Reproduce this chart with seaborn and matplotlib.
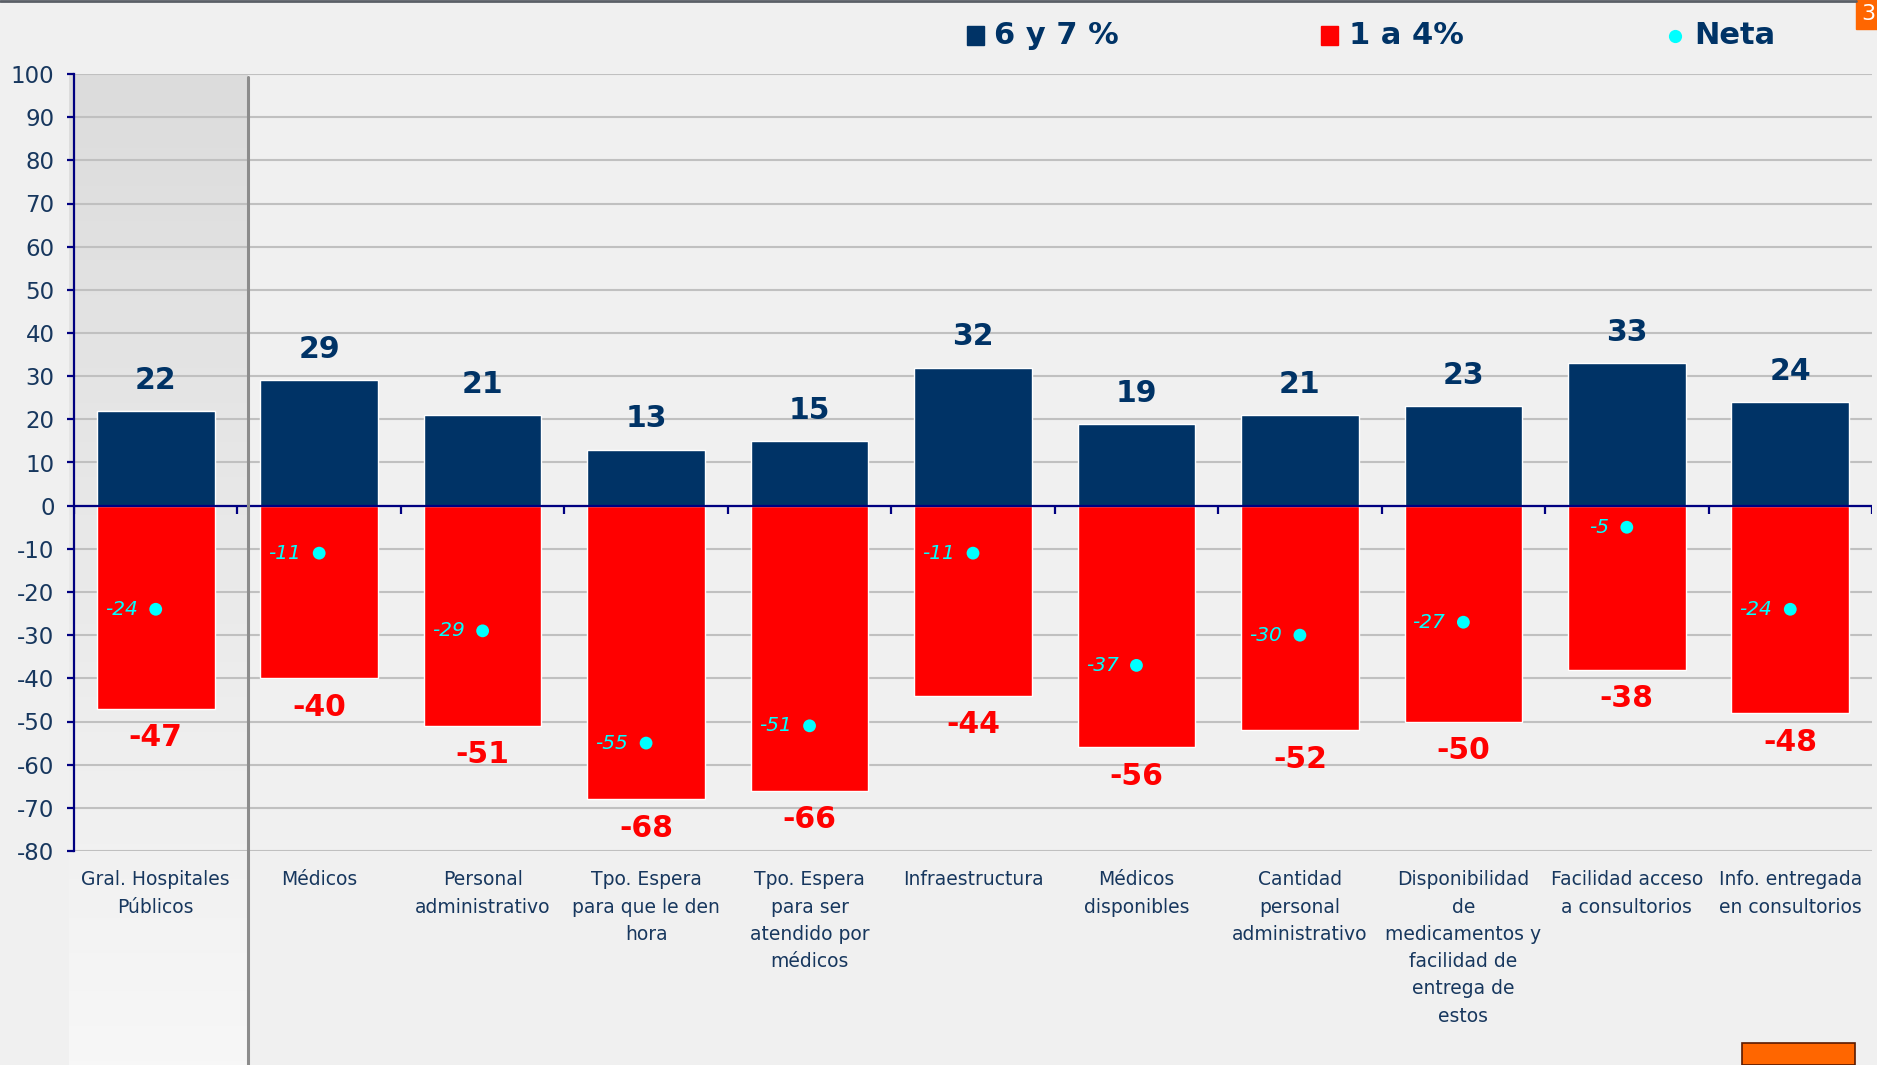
import matplotlib
matplotlib.use("Agg")
import matplotlib.pyplot as plt
import seaborn as sns
import numpy as np
import pandas as pd
from matplotlib.lines import Line2D
from matplotlib.patches import Rectangle
from matplotlib.colors import LinearSegmentedColormap

categories = [
    "Gral. Hospitales\nPúblicos",
    "Médicos",
    "Personal\nadministrativo",
    "Tpo. Espera\npara que le den\nhora",
    "Tpo. Espera\npara ser\natendido por\nmédicos",
    "Infraestructura",
    "Médicos\ndisponibles",
    "Cantidad\npersonal\nadministrativo",
    "Disponibilidad\nde\nmedicamentos y\nfacilidad de\nentrega de\nestos",
    "Facilidad acceso\na consultorios",
    "Info. entregada\nen consultorios",
]
alta = [22, 29, 21, 13, 15, 32, 19, 21, 23, 33, 24]          # 6 y 7 %
baja = [-47, -40, -51, -68, -66, -44, -56, -52, -50, -38, -48]  # 1 a 4%
neta = [-24, -11, -29, -55, -51, -11, -37, -30, -27, -5, -24]
y_ticks = list(range(-80, 101, 10))

NAVY = "#003366"
RED = "#ff0000"
CYAN = "#00ffff"
TXT = "#17375e"
AXC = "#000080"
BG = "#f0f0f0"

df = pd.DataFrame({"cat": categories, "alta": alta, "baja": baja, "neta": neta})

sns.set_theme(style="white")
plt.rcParams["font.family"] = ["DejaVu Sans"]

W, H = 1877, 1065
fig = plt.figure(figsize=(W / 100, H / 100), dpi=100, facecolor=BG)

# shaded gradient panel behind first category
x0, x1, ytop = 69, 248, 74
bg = fig.add_axes([x0 / W, 0, (x1 - x0) / W, 1 - ytop / H], zorder=0)
grad = np.linspace(0, 1, 256).reshape(-1, 1)
cmap = LinearSegmentedColormap.from_list("g", ["#dcdcdc", "#f7f7f7"])
bg.imshow(grad, aspect="auto", cmap=cmap, extent=[0, 1, 0, 1], origin="upper")
bg.set_axis_off()

L, R, T, B = 74, 1872, 74, 851
ax = fig.add_axes([L / W, 1 - B / H, (R - L) / W, (B - T) / H], zorder=1)
ax.set_facecolor("none")

for yv in y_ticks:
    ax.axhline(yv, color="#c0c0c0", lw=1.5, zorder=0)

sns.barplot(data=df, x="cat", y="alta", color=NAVY, width=0.72, saturation=1,
            ax=ax, zorder=2, errorbar=None)
sns.barplot(data=df, x="cat", y="baja", color=RED, width=0.72, saturation=1,
            ax=ax, zorder=2, errorbar=None)
sns.scatterplot(data=df, x="cat", y="neta", color=CYAN, s=85, edgecolor="none",
                ax=ax, zorder=4)

ax.set_xlim(-0.5, len(categories) - 0.5)
ax.set_ylim(-80, 100)
ax.axhline(0, color=AXC, lw=1.6, zorder=3)
ax.vlines(np.arange(len(categories) + 1) - 0.5, -2.0, 0, color=AXC, lw=1.6, zorder=3)

for i, (a, b, n) in enumerate(zip(alta, baja, neta)):
    ax.annotate(f"{a}", (i, a), xytext=(0, 22), textcoords="offset points",
                ha="center", va="center", fontsize=21.5, fontweight="bold", color=NAVY, zorder=5)
    ax.annotate(f"{b}", (i, b), xytext=(0, -21), textcoords="offset points",
                ha="center", va="center", fontsize=21.5, fontweight="bold", color=RED, zorder=5)
    ax.annotate(f"{n}", (i, n), xytext=(-13, 0), textcoords="offset points",
                ha="right", va="center", fontsize=14.5, fontstyle="italic", color=CYAN, zorder=5)

ax.set_yticks(y_ticks)
ax.set_yticklabels([str(v) for v in y_ticks], fontsize=16.5, color=TXT)
ax.set_xticks(range(len(categories)))
ax.set_xticklabels(categories, fontsize=13.5, color=TXT, linespacing=1.55, va="top")
ax.tick_params(axis="x", length=0, pad=14)
ax.tick_params(axis="y", length=5, width=1.6, color=AXC, left=True, pad=9)
ax.set_xlabel("")
ax.set_ylabel("")
for s in ["top", "right", "bottom"]:
    ax.spines[s].set_visible(False)
ax.spines["left"].set_color(AXC)
ax.spines["left"].set_linewidth(1.6)

# separator line
fig.add_artist(Line2D([248 / W, 248 / W], [0, 1 - 77 / H], color="#8c8c8c", lw=2.2,
                      transform=fig.transFigure, zorder=2))

# top border
fig.add_artist(Line2D([0, 1856 / W], [1 - 1 / H, 1 - 1 / H], color="#5a5f66", lw=2,
                      transform=fig.transFigure))

# legend
ly = 1 - 36 / H
sq_w, sq_h = 17 / W, 19 / H
fig.add_artist(Rectangle((967 / W, ly - sq_h / 2), sq_w, sq_h, color=NAVY, transform=fig.transFigure))
fig.text(994 / W, ly, "6 y 7 %", fontsize=22, fontweight="bold", color=NAVY, va="center", ha="left")
fig.add_artist(Rectangle((1321 / W, ly - sq_h / 2), sq_w, sq_h, color=RED, transform=fig.transFigure))
fig.text(1349 / W, ly, "1 a 4%", fontsize=22, fontweight="bold", color=NAVY, va="center", ha="left")
fig.add_artist(Line2D([1675 / W], [ly], marker="o", markersize=9.5, color=CYAN,
                      markeredgewidth=0, transform=fig.transFigure))
fig.text(1694 / W, ly, "Neta", fontsize=22, fontweight="bold", color=NAVY, va="center", ha="left")

# orange boxes
fig.add_artist(Rectangle((1856 / W, 1 - 29 / H), 21 / W, 29 / H, color="#ff6600",
                         transform=fig.transFigure, clip_on=False))
fig.text(1861 / W, 1 - 14 / H, "3", fontsize=16, color="white", va="center", ha="left")
fig.add_artist(Rectangle((1742 / W, 0), 113 / W, 22 / H, facecolor="#ff6600",
                         edgecolor="#5a1a00", lw=1.2, transform=fig.transFigure))

fig.savefig("out.png", dpi=100, facecolor=BG)
